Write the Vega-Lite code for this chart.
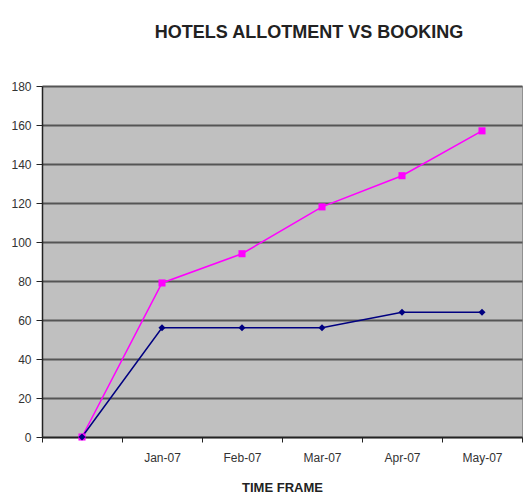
{
  "$schema": "https://vega.github.io/schema/vega-lite/v6.json",
  "autosize": {"type": "none"},
  "padding": {"left": 42, "top": 86, "right": 3, "bottom": 62},
  "width": 480,
  "height": 351,
  "background": "white",
  "title": {
    "text": "HOTELS ALLOTMENT VS BOOKING",
    "font": "Liberation Sans",
    "fontSize": 18,
    "fontWeight": "bold",
    "color": "#222222",
    "anchor": "middle",
    "dx": 27,
    "offset": 38
  },
  "config": {
    "view": {"fill": "#c0c0c0", "stroke": "#909090", "strokeWidth": 1},
    "axis": {"labelFont": "Liberation Sans", "titleFont": "Liberation Sans"}
  },
  "data": {
    "values": [
      {"month": "start", "series": "Allotment", "value": 0},
      {"month": "Jan-07", "series": "Allotment", "value": 79},
      {"month": "Feb-07", "series": "Allotment", "value": 94},
      {"month": "Mar-07", "series": "Allotment", "value": 118},
      {"month": "Apr-07", "series": "Allotment", "value": 134},
      {"month": "May-07", "series": "Allotment", "value": 157},
      {"month": "start", "series": "Booking", "value": 0},
      {"month": "Jan-07", "series": "Booking", "value": 56},
      {"month": "Feb-07", "series": "Booking", "value": 56},
      {"month": "Mar-07", "series": "Booking", "value": 56},
      {"month": "Apr-07", "series": "Booking", "value": 64},
      {"month": "May-07", "series": "Booking", "value": 64}
    ]
  },
  "encoding": {
    "x": {
      "field": "month",
      "type": "nominal",
      "sort": ["start", "Jan-07", "Feb-07", "Mar-07", "Apr-07", "May-07"],
      "scale": {"type": "band", "paddingInner": 0, "paddingOuter": 0},
      "axis": {
        "title": "TIME FRAME",
        "titleFontSize": 13,
        "titleFontWeight": "bold",
        "titleColor": "#222222",
        "titlePadding": 18,
        "labelExpr": "datum.value == 'start' ? '' : datum.value",
        "labelAngle": 0,
        "labelFontSize": 12,
        "labelColor": "#333333",
        "labelPadding": 10,
        "tickBand": "extent",
        "tickSize": 5,
        "tickColor": "#222222",
        "domainColor": "#222222",
        "domainWidth": 1.5,
        "grid": false
      }
    },
    "y": {
      "field": "value",
      "type": "quantitative",
      "scale": {"domain": [0, 180], "nice": false},
      "axis": {
        "title": null,
        "values": [0, 20, 40, 60, 80, 100, 120, 140, 160, 180],
        "labelFontSize": 12,
        "labelColor": "#333333",
        "labelPadding": 5,
        "tickSize": 6,
        "tickColor": "#222222",
        "domainColor": "#222222",
        "domainWidth": 1.5,
        "grid": true,
        "gridColor": "#555555",
        "gridWidth": 2
      }
    },
    "color": {
      "field": "series",
      "type": "nominal",
      "scale": {"domain": ["Allotment", "Booking"], "range": ["#ff00ff", "#000080"]},
      "legend": null
    }
  },
  "layer": [
    {"mark": {"type": "line", "strokeWidth": 1.5}},
    {
      "mark": {"type": "point", "filled": true, "opacity": 1, "size": 50},
      "encoding": {
        "shape": {
          "field": "series",
          "type": "nominal",
          "scale": {"domain": ["Allotment", "Booking"], "range": ["square", "diamond"]},
          "legend": null
        }
      }
    }
  ]
}
